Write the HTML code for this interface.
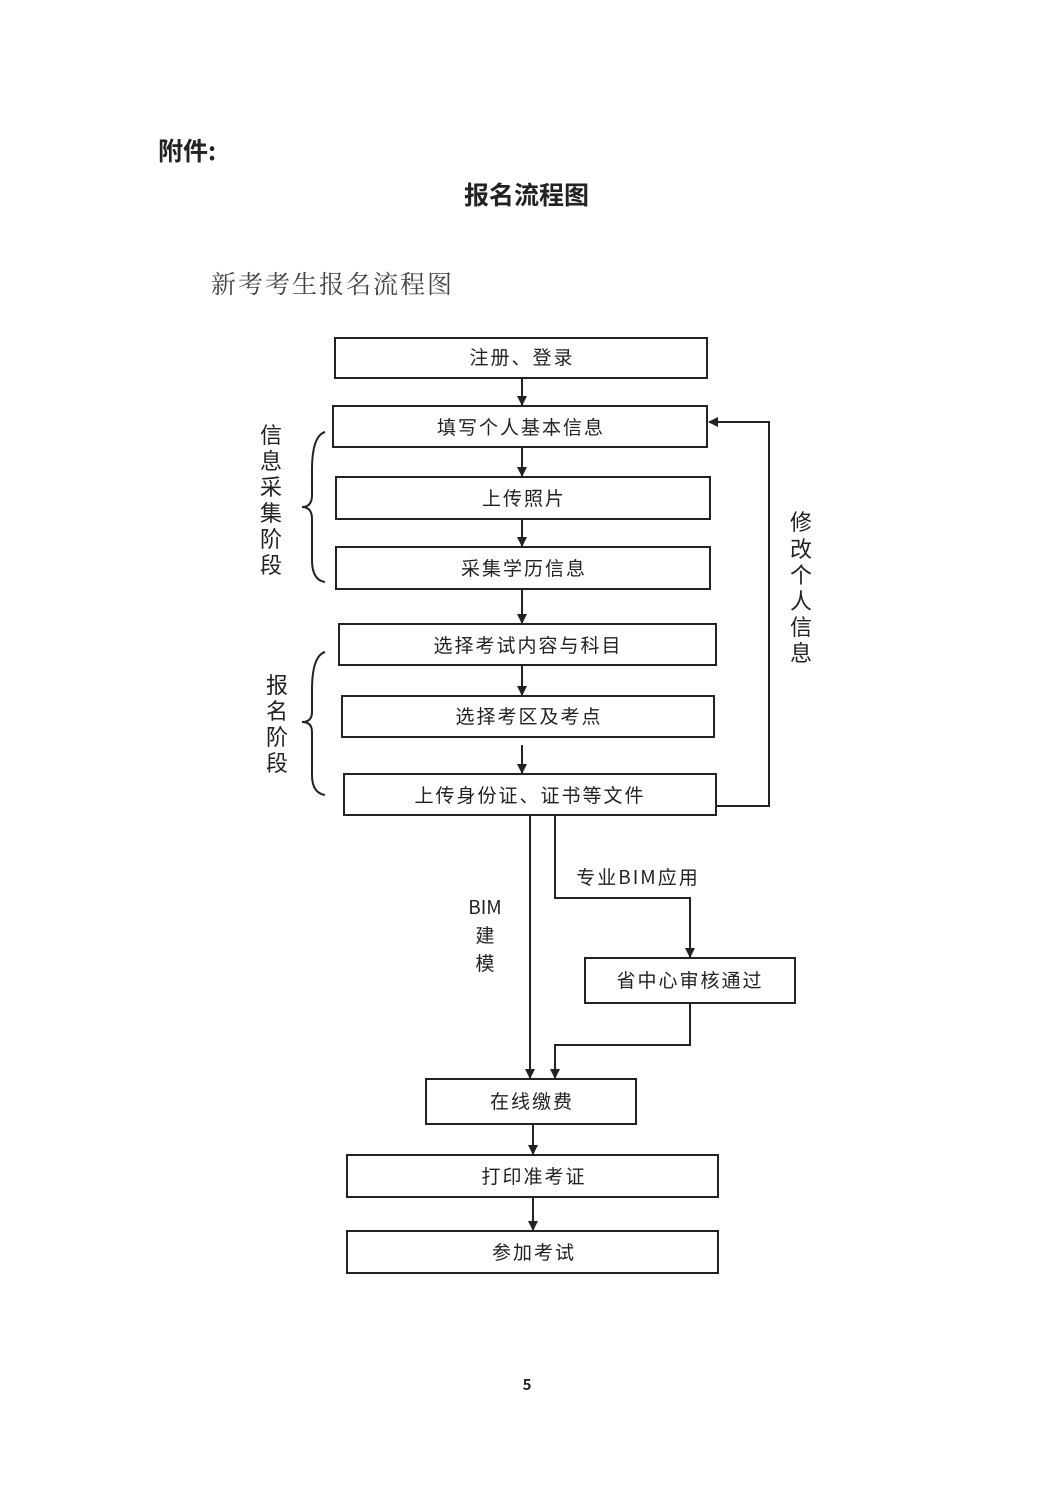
<!DOCTYPE html>
<html><head><meta charset="utf-8"><style>
body{margin:0;background:#fff;}
.w{position:relative;width:1059px;height:1498px;overflow:hidden;font-family:"Liberation Serif","Noto Serif CJK SC","Noto Sans CJK SC",serif;color:#222;}
.t{position:absolute;white-space:nowrap;}
</style></head><body><div class="w">
<div class="t" style="left:158px;top:132px;font-size:25px;font-weight:bold;font-family:'Noto Sans CJK SC',sans-serif;">附件:</div>
<div class="t" style="left:464px;top:176px;font-size:25px;font-weight:bold;font-family:'Noto Sans CJK SC',sans-serif;">报名流程图</div>
<div class="t" style="left:211px;top:265px;font-size:25px;letter-spacing:2px;color:#444;">新考考生报名流程图</div>
<svg width="1059" height="1498" style="position:absolute;left:0;top:0" font-family="Noto Sans CJK SC, sans-serif" font-size="19" fill="#222">
<defs><marker id="a" markerWidth="10" markerHeight="10" refX="9" refY="5" orient="auto" markerUnits="userSpaceOnUse"><path d="M0,0 L10,5 L0,10z" fill="#222"/></marker></defs>
<g stroke="#222" stroke-width="2" fill="none">
<rect x="335" y="338" width="372" height="40"/>
<rect x="333" y="406" width="374" height="41"/>
<rect x="336" y="477" width="374" height="42"/>
<rect x="336" y="547" width="374" height="42"/>
<rect x="339" y="624" width="377" height="41"/>
<rect x="342" y="696" width="372" height="41"/>
<rect x="344" y="774" width="372" height="41"/>
<rect x="585" y="958" width="210" height="45"/>
<rect x="426" y="1079" width="210" height="45"/>
<rect x="347" y="1155" width="371" height="42"/>
<rect x="347" y="1231" width="371" height="42"/>
<g marker-end="url(#a)">
<line x1="522" y1="378" x2="522" y2="405"/>
<line x1="522" y1="447" x2="522" y2="476"/>
<line x1="522" y1="519" x2="522" y2="546"/>
<line x1="522" y1="589" x2="522" y2="623"/>
<line x1="522" y1="665" x2="522" y2="695"/>
<line x1="522" y1="745" x2="522" y2="773"/>
<polyline points="716,806 769,806 769,422 709,422"/>
<line x1="530" y1="815" x2="530" y2="1078"/>
<polyline points="555,815 555,898 690,898 690,957"/>
<polyline points="690,1003 690,1045 555,1045 555,1078"/>
<line x1="533" y1="1124" x2="533" y2="1154"/>
<line x1="533" y1="1197" x2="533" y2="1230"/>
</g>
<path d="M325,432 Q312,436 312,470 L312,495 Q312,507 302,507 Q312,507 312,519 L312,560 Q312,580 325,582"/>
<path d="M325,652 Q312,656 312,690 L312,712 Q312,722 302,722 Q312,722 312,732 L312,775 Q312,793 325,795"/>
</g>
<g text-anchor="middle" letter-spacing="2">
<text x="522" y="364">注册、登录</text>
<text x="521" y="434">填写个人基本信息</text>
<text x="524" y="505">上传照片</text>
<text x="524" y="575">采集学历信息</text>
<text x="528" y="652">选择考试内容与科目</text>
<text x="529" y="723">选择考区及考点</text>
<text x="530" y="802">上传身份证、证书等文件</text>
<text x="690" y="987">省中心审核通过</text>
<text x="532" y="1108">在线缴费</text>
<text x="534" y="1183">打印准考证</text>
<text x="534" y="1259">参加考试</text>
<text x="638" y="884">专业BIM应用</text>
</g>
<g text-anchor="middle">
<text x="485" y="914">BIM</text>
<text x="485" y="942">建</text>
<text x="485" y="970">模</text>
</g>
<g text-anchor="middle" font-size="22">
<text x="271" y="443">信</text><text x="271" y="469">息</text><text x="271" y="495">采</text><text x="271" y="521">集</text><text x="271" y="547">阶</text><text x="271" y="573">段</text>
<text x="277" y="693">报</text><text x="277" y="719">名</text><text x="277" y="745">阶</text><text x="277" y="771">段</text>
<text x="801" y="530">修</text><text x="801" y="557">改</text><text x="801" y="583">个</text><text x="801" y="609">人</text><text x="801" y="635">信</text><text x="801" y="661">息</text>
</g>
<text x="527" y="1390" text-anchor="middle" font-size="15" font-weight="bold">5</text>
</svg>
</div></body></html>
